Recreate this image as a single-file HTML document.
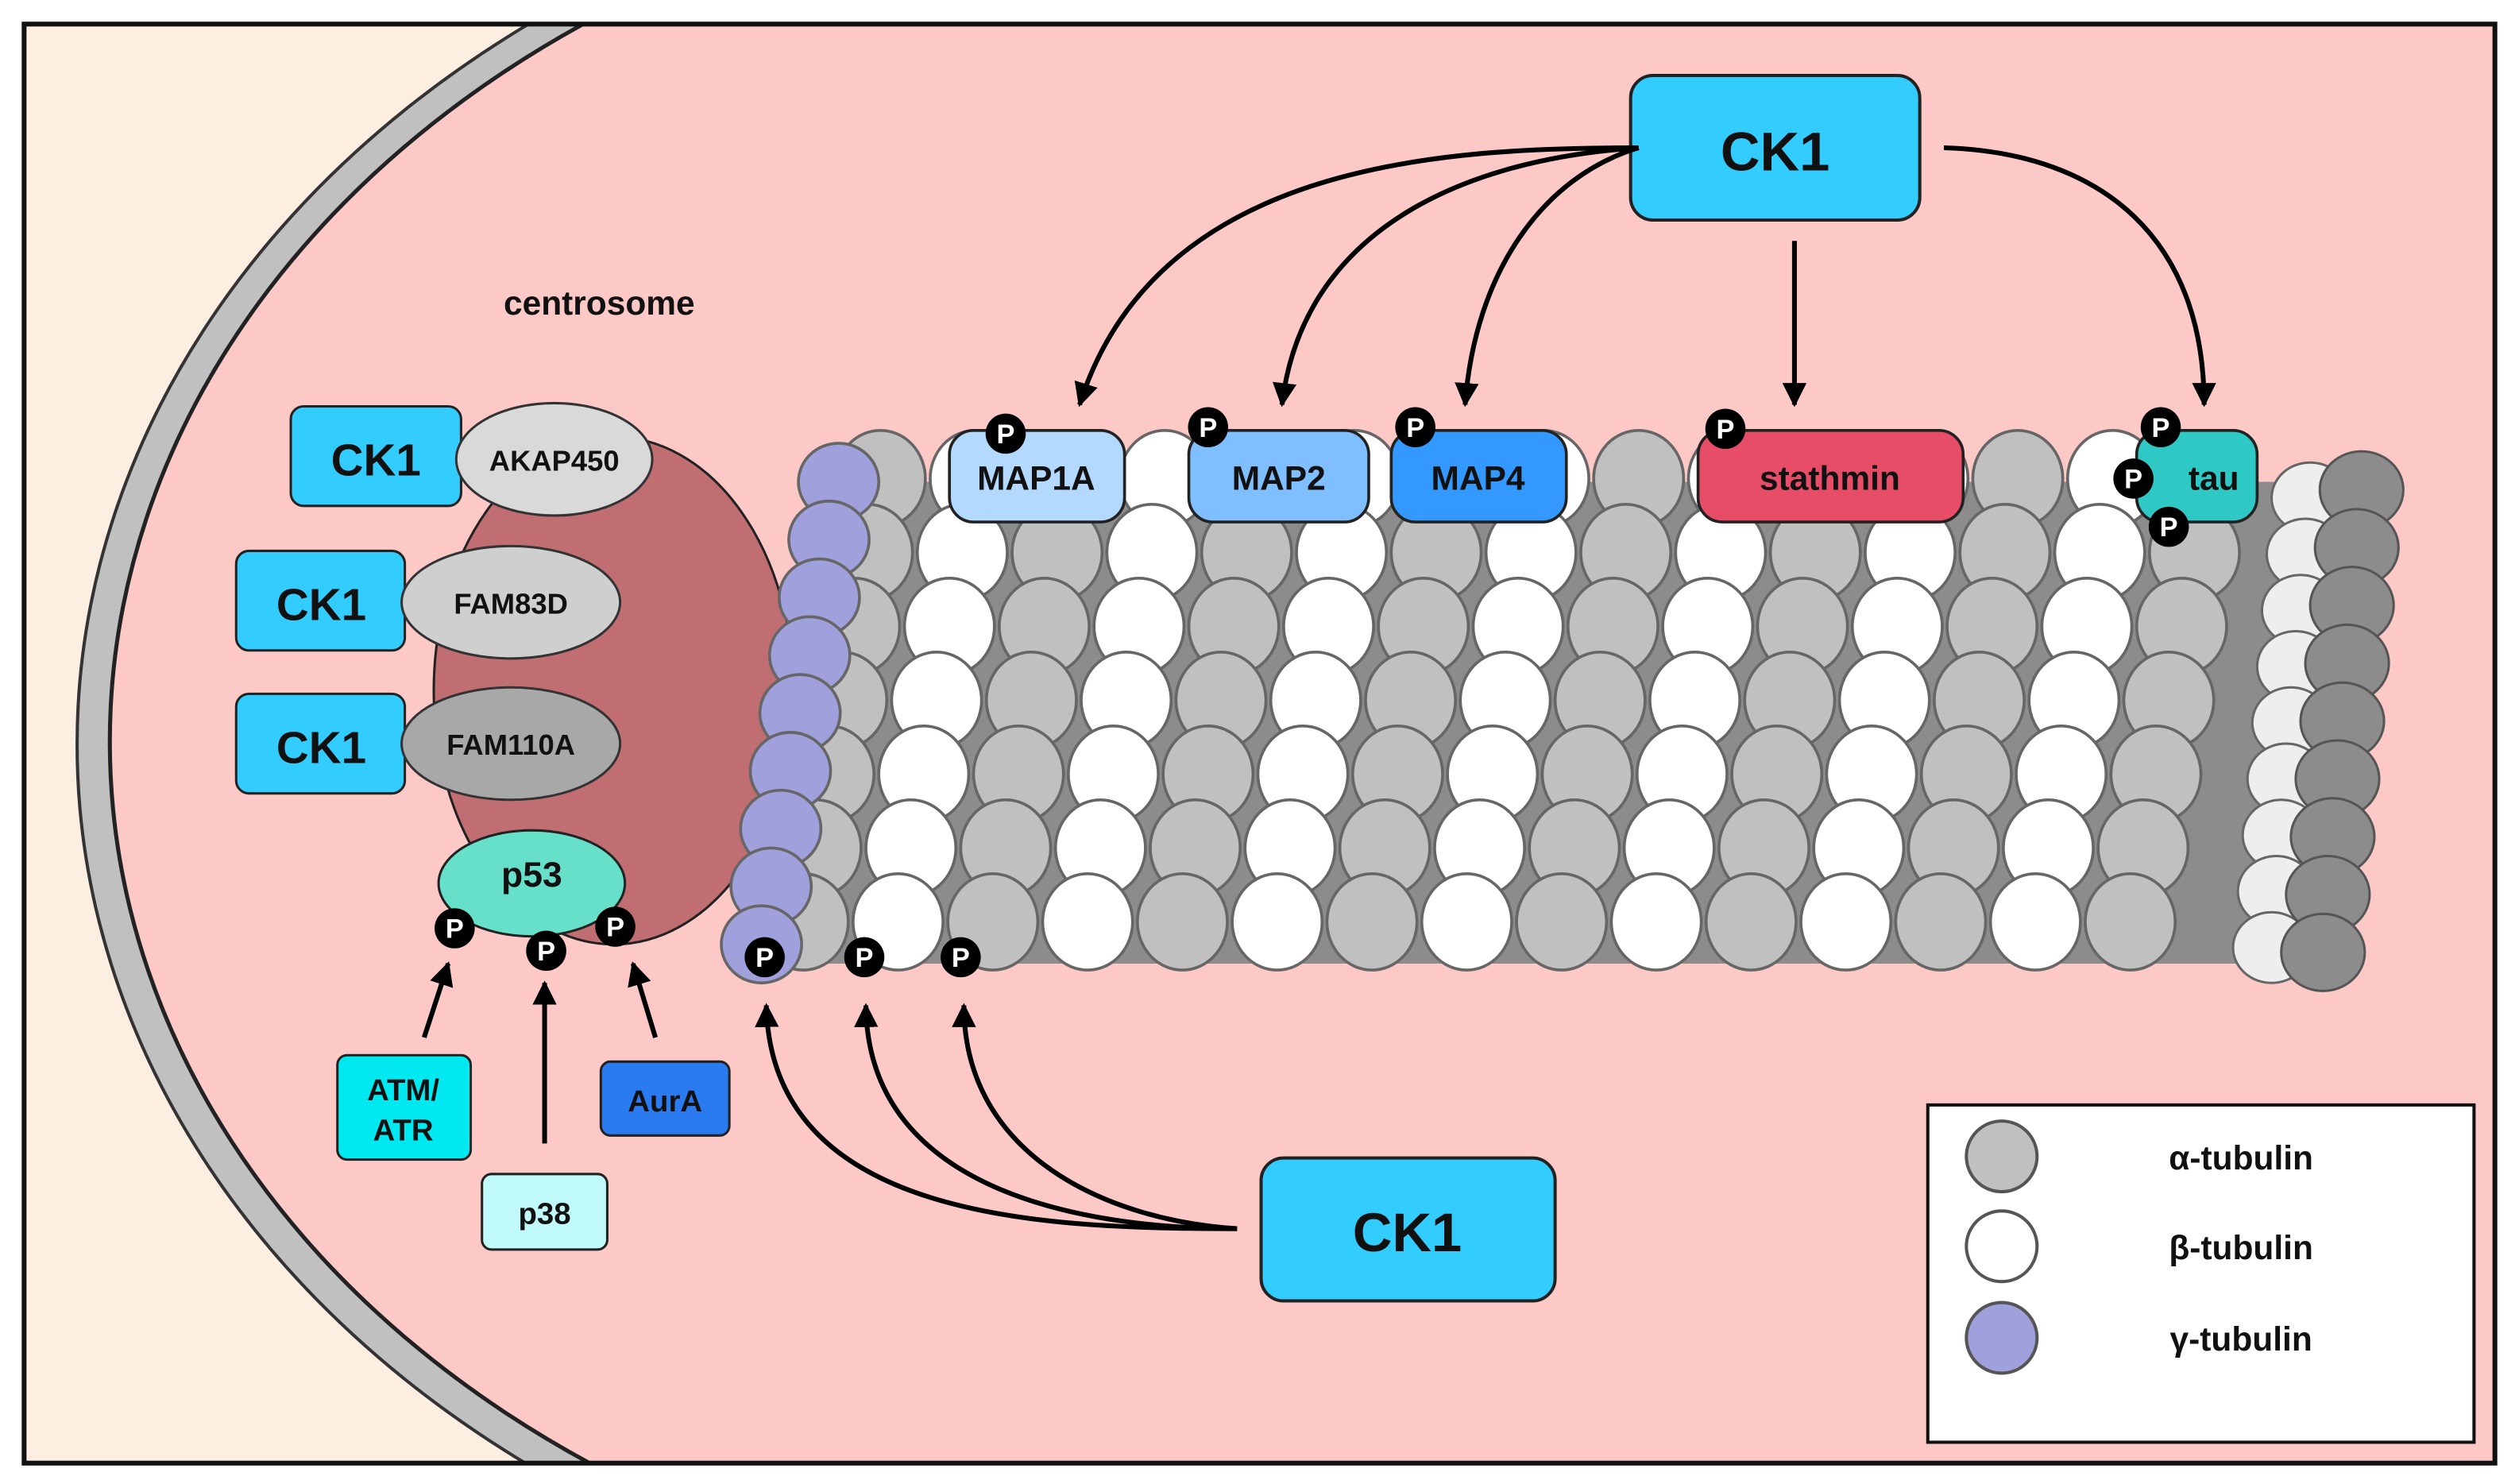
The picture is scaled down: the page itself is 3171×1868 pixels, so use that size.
<!DOCTYPE html>
<html><head><meta charset="utf-8"><style>
html,body{margin:0;padding:0;background:#fff;width:3171px;height:1868px;overflow:hidden;position:relative}
svg{display:block;position:absolute;left:0;top:0}
text{font-family:"Liberation Sans",sans-serif;font-weight:bold;fill:#111}
</style></head><body>
<svg id="s" xmlns="http://www.w3.org/2000/svg" width="3171" height="1868" viewBox="0 0 1568 924" preserveAspectRatio="none">
<defs>
<marker id="ah" viewBox="0 0 10 10" refX="9" refY="5" markerWidth="5" markerHeight="5" orient="auto"><path d="M0,0 L10,5 L0,10 z" fill="#000"/></marker>
</defs>
<rect x="0" y="0" width="1568" height="924" fill="#fff"/>
<rect x="15" y="15" width="1538" height="896" fill="#fdeee2"/>
<path d="M329,15 A700,560 0 0,0 327,911 L1553,911 L1553,15 Z" fill="#c0c0c0" stroke="#333" stroke-width="2"/>
<path d="M363,15 A682,543 0 0,0 367,911 L1553,911 L1553,15 Z" fill="#fdc9c7" stroke="#222" stroke-width="2.5"/>
<rect x="15" y="15" width="1538" height="896" fill="none" stroke="#111" stroke-width="3"/>

<text x="373" y="196" font-size="21" text-anchor="middle">centrosome</text>
<ellipse cx="382" cy="430" rx="112" ry="158" fill="#c06e72" stroke="#222" stroke-width="1.5"/>

<g id="mt"></g>

<rect x="181" y="253" width="106" height="62" rx="8" fill="#33ccff" stroke="#222" stroke-width="1.5"/>
<text x="234" y="296" font-size="28" text-anchor="middle">CK1</text>
<ellipse cx="345" cy="286" rx="61" ry="35" fill="#d9d9d9" stroke="#333" stroke-width="1.5"/>
<text x="345" y="293" font-size="18" text-anchor="middle">AKAP450</text>
<rect x="147" y="343" width="105" height="62" rx="8" fill="#33ccff" stroke="#222" stroke-width="1.5"/>
<text x="200" y="386" font-size="28" text-anchor="middle">CK1</text>
<ellipse cx="318" cy="375" rx="68" ry="35" fill="#cfcfcf" stroke="#333" stroke-width="1.5"/>
<text x="318" y="382" font-size="18" text-anchor="middle">FAM83D</text>
<rect x="147" y="432" width="105" height="62" rx="8" fill="#33ccff" stroke="#222" stroke-width="1.5"/>
<text x="200" y="475" font-size="28" text-anchor="middle">CK1</text>
<ellipse cx="318" cy="463" rx="68" ry="35" fill="#a8a8a8" stroke="#333" stroke-width="1.5"/>
<text x="318" y="470" font-size="18" text-anchor="middle">FAM110A</text>

<ellipse cx="331" cy="550" rx="58" ry="33" fill="#66e0c8" stroke="#222" stroke-width="1.5"/>
<text x="331" y="552" font-size="22" text-anchor="middle">p53</text>

<rect x="210" y="657" width="83" height="65" rx="6" fill="#00e8f0" stroke="#222" stroke-width="1.5"/>
<text x="251" y="685" font-size="19" text-anchor="middle">ATM/</text>
<text x="251" y="710" font-size="19" text-anchor="middle">ATR</text>
<rect x="300" y="731" width="78" height="47" rx="6" fill="#c0fafa" stroke="#222" stroke-width="1.5"/>
<text x="339" y="762" font-size="19" text-anchor="middle">p38</text>
<rect x="374" y="661" width="80" height="46" rx="6" fill="#2b7bf0" stroke="#222" stroke-width="1.5"/>
<text x="414" y="692" font-size="19" text-anchor="middle">AurA</text>
<g stroke="#000" stroke-width="3" fill="none" marker-end="url(#ah)">
<line x1="264" y1="646" x2="279" y2="600"/>
<line x1="339" y1="712" x2="339" y2="612"/>
<line x1="408" y1="646" x2="394" y2="600"/>
</g>

<g stroke="#222" stroke-width="1.8">
<rect x="591" y="268" width="109" height="57" rx="15" fill="#b3d9ff"/>
<rect x="740" y="268" width="112" height="57" rx="15" fill="#80bfff"/>
<rect x="866" y="268" width="109" height="57" rx="15" fill="#3399ff"/>
<rect x="1057" y="268" width="165" height="57" rx="15" fill="#e84d68"/>
<rect x="1330" y="268" width="75" height="57" rx="15" fill="#2ec9c4"/>
</g>
<text x="645" y="305" font-size="21" text-anchor="middle">MAP1A</text>
<text x="796" y="305" font-size="21" text-anchor="middle">MAP2</text>
<text x="920" y="305" font-size="21" text-anchor="middle">MAP4</text>
<text x="1139" y="305" font-size="21" text-anchor="middle">stathmin</text>
<text x="1378" y="305" font-size="21" text-anchor="middle">tau</text>

<g id="ps"></g>

<rect x="1015" y="47" width="180" height="90" rx="14" fill="#33ccff" stroke="#222" stroke-width="2"/>
<text x="1105" y="106" font-size="34" text-anchor="middle">CK1</text>
<g stroke="#000" stroke-width="3" fill="none" marker-end="url(#ah)">
<path d="M1020,92 C900,92 720,100 672,252"/>
<path d="M1020,92 C900,100 810,150 798,252"/>
<path d="M1020,92 C960,110 918,170 912,252"/>
<line x1="1117" y1="150" x2="1117" y2="252"/>
<path d="M1210,92 C1310,95 1372,150 1372,252"/>
</g>

<rect x="785" y="721" width="183" height="89" rx="14" fill="#33ccff" stroke="#222" stroke-width="2"/>
<text x="876" y="779" font-size="34" text-anchor="middle">CK1</text>
<g stroke="#000" stroke-width="3" fill="none" marker-end="url(#ah)">
<path d="M770,765 C650,765 480,760 477,626"/>
<path d="M770,765 C670,765 540,740 539,626"/>
<path d="M770,765 C690,760 600,720 600,626"/>
</g>

<rect x="1200" y="688" width="340" height="210" fill="#fff" stroke="#111" stroke-width="2"/>
<circle cx="1246" cy="720" r="22" fill="#c0c0c0" stroke="#555" stroke-width="2"/>
<circle cx="1246" cy="776" r="22" fill="#fff" stroke="#555" stroke-width="2"/>
<circle cx="1246" cy="833" r="22" fill="#a0a0dc" stroke="#555" stroke-width="2"/>
<text x="1395" y="728" font-size="21" text-anchor="middle">α-tubulin</text>
<text x="1395" y="784" font-size="21" text-anchor="middle">β-tubulin</text>
<text x="1395" y="841" font-size="21" text-anchor="middle">γ-tubulin</text>
</svg>
<script>
(function(){
var NS="http://www.w3.org/2000/svg";
function el(p,t,a){var e=document.createElementNS(NS,t);for(var k in a)e.setAttribute(k,a[k]);p.appendChild(e);return e;}
var mt=document.getElementById("mt");
el(mt,"polygon",{points:"520,300 1440,300 1440,600 470,600",fill:"#8c8c8c"});
for(var k=0;k<9;k++){el(mt,"ellipse",{cx:1438-3*k,cy:310+35*k,rx:24,ry:22,fill:"#eeeeee",stroke:"#666","stroke-width":1.5});}
for(var k=0;k<9;k++){el(mt,"ellipse",{cx:1470-3*k,cy:305+36*k,rx:26,ry:24,fill:"#8c8c8c",stroke:"#555","stroke-width":1.5});}
for(var j=0;j<7;j++){for(var i=0;i<15;i++){
 var x=548+59*i-8*j, y=298+46*j;
 el(mt,"ellipse",{cx:x,cy:y,rx:28,ry:30,fill:(i%2==0?"#c0c0c0":"#ffffff"),stroke:"#666","stroke-width":1.8});
}}
for(var k=0;k<9;k++){el(mt,"ellipse",{cx:522-6*k,cy:300+36*k,rx:25,ry:24,fill:"#a0a0dc",stroke:"#666","stroke-width":1.8});}
var ps=document.getElementById("ps");
var P=[[283,578],[340,592],[383,577],[626,270],[752,266],[881,266],[1074,267],[1345,266],[1328,298],[1350,328],[476,596],[538,596],[598,596]];
P.forEach(function(p){
 el(ps,"circle",{cx:p[0],cy:p[1],r:12.5,fill:"#000"});
 var t=el(ps,"text",{x:p[0],y:p[1]+6,"font-size":17,"text-anchor":"middle",style:"fill:#fff"});t.textContent="P";
});
})();
</script>
</body></html>
